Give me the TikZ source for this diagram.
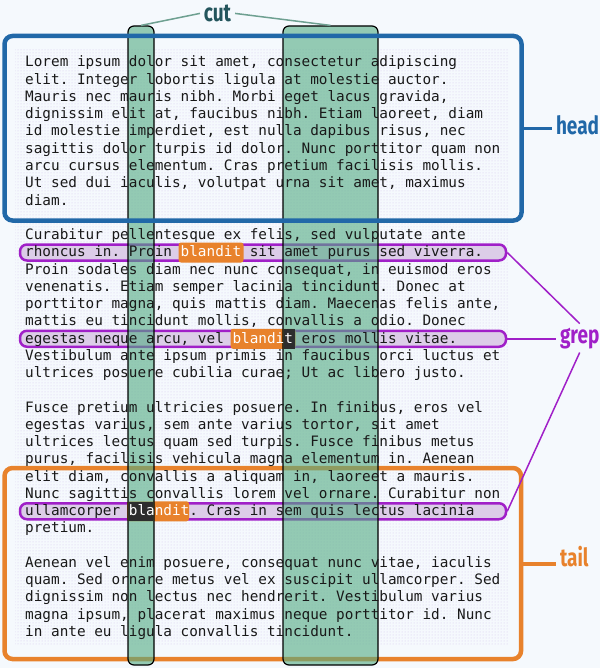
\documentclass[tikz,border=0pt]{standalone}
\usepackage{fontspec}
\setmonofont{DejaVu Sans Mono}
\newfontfamily\labelfont{Fira Sans}[FakeStretch=0.76]
\usetikzlibrary{patterns}
\definecolor{bgc}{RGB}{245,249,253}
\definecolor{dotc}{RGB}{214,200,236}
\definecolor{headc}{RGB}{33,104,168}
\definecolor{tailc}{RGB}{232,130,44}
\definecolor{grepc}{RGB}{160,32,200}
\definecolor{pillc}{RGB}{220,205,232}
\definecolor{colc}{RGB}{83,172,131}
\definecolor{cutc}{RGB}{35,85,92}
\definecolor{cutline}{RGB}{110,160,145}
\definecolor{ink}{RGB}{25,25,25}
\definecolor{darkhl}{RGB}{45,45,45}
\tikzset{
  txt/.style={anchor=base west, inner sep=0pt, text=ink,
    font=\ttfamily\frenchspacing\fontsize{14.35}{17}\selectfont},
  pill/.style={draw=grepc, fill=pillc, line width=2.5pt, rounded corners=7pt,
    minimum width=486pt, minimum height=16pt, inner sep=0pt},
  hl/.style={fill=tailc, rounded corners=2.5pt, minimum width=65pt,
    minimum height=20pt, inner sep=0pt},
  cutcol/.style={draw=black, line width=1.2pt, fill=colc, fill opacity=0.6,
    draw opacity=1, rounded corners=6pt, minimum height=639pt, inner sep=0pt},
  bigbox/.style={line width=4.5pt, rounded corners=8pt, inner sep=0pt},
  lab/.style={inner sep=0pt, outer sep=4pt, font=\labelfont\bfseries\fontsize{25}{25}\selectfont},
}
\begin{document}
\begin{tikzpicture}[x=1pt,y=-1pt]
\useasboundingbox (0,0) rectangle (600,668);
\fill[bgc] (0,0) rectangle (600,668);
\fill[pattern=dots, pattern color=dotc] (15,50) rectangle (508,645);
% tail box
\node[bigbox, draw=tailc, minimum width=516.5pt, minimum height=191pt] (tailbox) at (262.75,563.5) {};
% grep pills
\node[pill] (g1) at (263,252.5) {};
\node[pill] (g2) at (263,338.75) {};
\node[pill] (g3) at (263,511.25) {};
% blandit highlights
\node[hl] (h1) at (211,252.5) {};
\node[hl] (h2) at (263,338.75) {};
\node[hl, minimum width=62pt] (h3) at (158,511.25) {};
% cut columns
\node[cutcol, minimum width=26pt] (col1) at (141,345.5) {};
\node[cutcol, minimum width=95pt] (col2) at (330.5,345.5) {};
% blandit parts inside columns
\fill[darkhl] (284,329) rectangle (294.5,348.5);
\fill[darkhl] (128.8,501.5) rectangle (153.2,521);
% text
\node[txt] (l0) at (25,{67+17.25*0}) {Lorem ipsum dolor sit amet, consectetur adipiscing};
\node[txt] (l1) at (25,{67+17.25*1}) {elit. Integer lobortis ligula at molestie auctor.};
\node[txt] (l2) at (25,{67+17.25*2}) {Mauris nec mauris nibh. Morbi eget lacus gravida,};
\node[txt] (l3) at (25,{67+17.25*3}) {dignissim elit at, faucibus nibh. Etiam laoreet, diam};
\node[txt] (l4) at (25,{67+17.25*4}) {id molestie imperdiet, est nulla dapibus risus, nec};
\node[txt] (l5) at (25,{67+17.25*5}) {sagittis dolor turpis id dolor. Nunc porttitor quam non};
\node[txt] (l6) at (25,{67+17.25*6}) {arcu cursus elementum. Cras pretium facilisis mollis.};
\node[txt] (l7) at (25,{67+17.25*7}) {Ut sed dui iaculis, volutpat urna sit amet, maximus};
\node[txt] (l8) at (25,{67+17.25*8}) {diam.};
\node[txt] (l10) at (25,{67+17.25*10}) {Curabitur pellentesque ex felis, sed vulputate ante};
\node[txt] (l11) at (25,{67+17.25*11}) {rhoncus in. Proin \textcolor{white}{blandit} sit amet purus sed viverra.};
\node[txt] (l12) at (25,{67+17.25*12}) {Proin sodales diam nec nunc consequat, in euismod eros};
\node[txt] (l13) at (25,{67+17.25*13}) {venenatis. Etiam semper lacinia tincidunt. Donec at};
\node[txt] (l14) at (25,{67+17.25*14}) {porttitor magna, quis mattis diam. Maecenas felis ante,};
\node[txt] (l15) at (25,{67+17.25*15}) {mattis eu tincidunt mollis, convallis a odio. Donec};
\node[txt] (l16) at (25,{67+17.25*16}) {egestas neque arcu, vel \textcolor{white}{blandit} eros mollis vitae.};
\node[txt] (l17) at (25,{67+17.25*17}) {Vestibulum ante ipsum primis in faucibus orci luctus et};
\node[txt] (l18) at (25,{67+17.25*18}) {ultrices posuere cubilia curae; Ut ac libero justo.};
\node[txt] (l20) at (25,{67+17.25*20}) {Fusce pretium ultricies posuere. In finibus, eros vel};
\node[txt] (l21) at (25,{67+17.25*21}) {egestas varius, sem ante varius tortor, sit amet};
\node[txt] (l22) at (25,{67+17.25*22}) {ultrices lectus quam sed turpis. Fusce finibus metus};
\node[txt] (l23) at (25,{67+17.25*23}) {purus, facilisis vehicula magna elementum in. Aenean};
\node[txt] (l24) at (25,{67+17.25*24}) {elit diam, convallis a aliquam in, laoreet a mauris.};
\node[txt] (l25) at (25,{67+17.25*25}) {Nunc sagittis convallis lorem vel ornare. Curabitur non};
\node[txt] (l26) at (25,{67+17.25*26}) {ullamcorper \textcolor{white}{blandit}. Cras in sem quis lectus lacinia};
\node[txt] (l27) at (25,{67+17.25*27}) {pretium.};
\node[txt] (l29) at (25,{67+17.25*29}) {Aenean vel enim posuere, consequat nunc vitae, iaculis};
\node[txt] (l30) at (25,{67+17.25*30}) {quam. Sed ornare metus vel ex suscipit ullamcorper. Sed};
\node[txt] (l31) at (25,{67+17.25*31}) {dignissim non lectus nec hendrerit. Vestibulum varius};
\node[txt] (l32) at (25,{67+17.25*32}) {magna ipsum, placerat maximus neque porttitor id. Nunc};
\node[txt] (l33) at (25,{67+17.25*33}) {in ante eu ligula convallis tincidunt.};
% head box
\node[bigbox, draw=headc, minimum width=517pt, minimum height=184.5pt] (headbox) at (263,128.25) {};
% labels
\node[lab, text=cutc, anchor=base] (cut) at (217.5,21.5) {cut};
\node[lab, text=headc, anchor=base west] (head) at (552,135) {head};
\node[lab, text=grepc, anchor=base west] (grep) at (556,343) {grep};
\node[lab, text=tailc, anchor=base west] (tail) at (556,566) {tail};
% connectors
\draw[cutline, line width=1.5pt] (cut.west) -- (col1.north);
\draw[cutline, line width=1.5pt] (cut.east) -- (col2.north);
\draw[headc, line width=3pt] (headbox.east) -- (headbox.east -| head.west);
\draw[tailc, line width=4pt] (tailbox.east) -- (tailbox.east -| tail.west);
\draw[grepc, line width=1.5pt] (g1.east) -- (grep.north);
\draw[grepc, line width=1.5pt] (g2.east) -- (g2.east -| grep.west);
\draw[grepc, line width=1.5pt] (g3.east) -- (grep.south);
\end{tikzpicture}
\end{document}
